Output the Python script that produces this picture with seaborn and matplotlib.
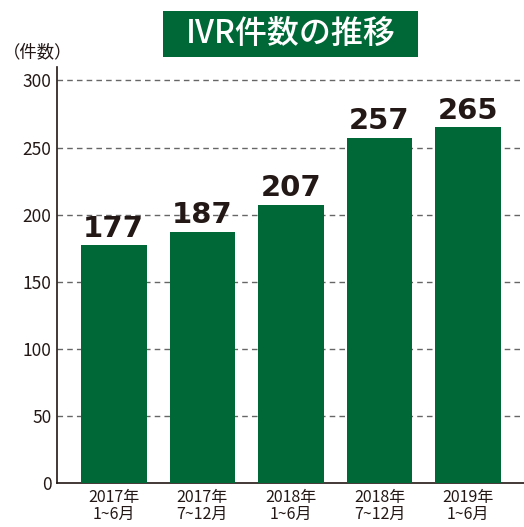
import matplotlib
matplotlib.use("Agg")
import matplotlib.pyplot as plt
import seaborn as sns
import pandas as pd
from matplotlib.patches import Rectangle

categories = ["2017年\n1~6月", "2017年\n7~12月", "2018年\n1~6月", "2018年\n7~12月", "2019年\n1~6月"]
values = [177, 187, 207, 257, 265]
yticks = [0, 50, 100, 150, 200, 250, 300]

sns.set_theme(style="white")
plt.rcParams['font.family'] = ['Noto Sans CJK JP', 'DejaVu Sans']

GREEN = "#006837"
df = pd.DataFrame({"period": categories, "count": values})

fig = plt.figure(figsize=(5.24, 5.27), dpi=100)
ax = fig.add_axes([57/524, 1-483/527, 1-57/524, (483-67)/527])

sns.barplot(data=df, x="period", y="count", color=GREEN, saturation=1, width=0.74, ax=ax,
            zorder=3, linewidth=0, edgecolor="none")
ax.set_xlim(-0.64, 4.63)
ax.set_ylim(0, 310)
ax.set_yticks(yticks)
ax.set_yticklabels([str(t) for t in yticks], fontsize=12.5, color="#231815")
ax.tick_params(axis='x', labelsize=11.5, colors="#231815", length=0, pad=4)
ax.tick_params(axis='y', length=0, pad=4)
for lab in ax.get_xticklabels():
    lab.set_linespacing(1.0)
for t in yticks[1:]:
    ax.axhline(t, color="#666666", linestyle=(0, (4, 3)), linewidth=1, zorder=1)
ax.set_xlabel("")
ax.set_ylabel("")
for s in ["top", "right"]:
    ax.spines[s].set_visible(False)
ax.spines["left"].set_color("#231815")
ax.spines["bottom"].set_color("#231815")
ax.spines["left"].set_linewidth(1.2)
ax.spines["bottom"].set_linewidth(1.2)

ax.bar_label(ax.containers[0], labels=[str(v) for v in values], padding=2,
             fontsize=21, fontweight="bold", color="#231815", family=['DejaVu Sans'])

fig.patches.append(Rectangle((163/524, 1-57/527), (418-163)/524, 46/527,
                             transform=fig.transFigure, facecolor=GREEN, edgecolor="none"))
fig.text(291/524, 1-34/527, "IVR件数の推移", color="white", fontsize=23, fontweight="medium",
         ha="center", va="center")
fig.text(3/524, 1-52/527, "（件数）", color="#231815", fontsize=12.5, ha="left", va="center")

fig.savefig("out.png", dpi=100)
